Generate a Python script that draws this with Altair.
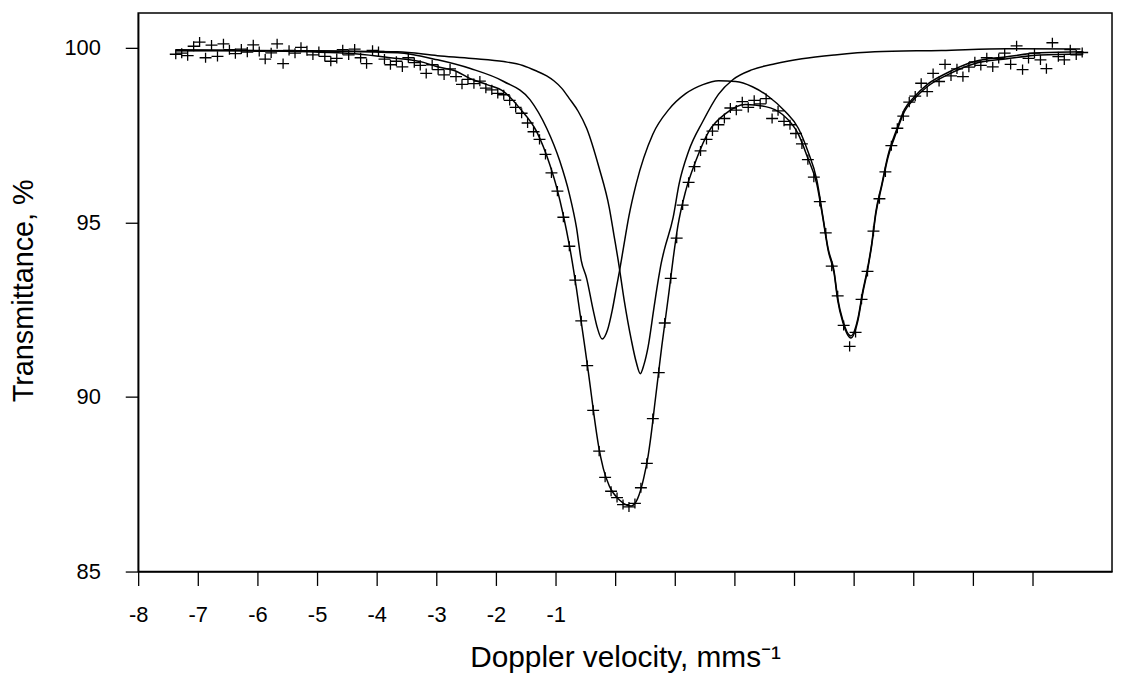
import altair as alt
import pandas as pd

# ---- measured spectrum: Doppler velocity (mm/s) and transmittance (%) ----
vel = [-7.37, -7.27, -7.17, -7.07, -6.97, -6.87, -6.77, -6.67, -6.57, -6.47,
       -6.37, -6.27, -6.17, -6.07, -5.97, -5.87, -5.77, -5.67, -5.57, -5.47,
       -5.37, -5.27, -5.17, -5.07, -4.97, -4.87, -4.77, -4.67, -4.57, -4.47,
       -4.37, -4.27, -4.17, -4.07, -3.97, -3.87, -3.77, -3.67, -3.57, -3.47,
       -3.37, -3.27, -3.17, -3.07, -2.97, -2.87, -2.77, -2.67, -2.57, -2.47,
       -2.37, -2.27, -2.17, -2.07, -1.97, -1.87, -1.77, -1.67, -1.57, -1.47,
       -1.37, -1.27, -1.17, -1.07, -0.97, -0.87, -0.77, -0.67, -0.57, -0.47,
       -0.37, -0.27, -0.17, -0.07, 0.03, 0.13, 0.23, 0.33, 0.43, 0.53,
       0.63, 0.73, 0.83, 0.93, 1.03, 1.13, 1.23, 1.33, 1.43, 1.53,
       1.63, 1.73, 1.83, 1.93, 2.03, 2.13, 2.23, 2.33, 2.43, 2.53,
       2.63, 2.73, 2.83, 2.93, 3.03, 3.13, 3.23, 3.33, 3.43, 3.53,
       3.63, 3.73, 3.83, 3.93, 4.03, 4.13, 4.23, 4.33, 4.43, 4.53,
       4.63, 4.73, 4.83, 4.93, 5.03, 5.13, 5.23, 5.33, 5.43, 5.53,
       5.63, 5.73, 5.83, 5.93, 6.03, 6.13, 6.23, 6.33, 6.43, 6.53,
       6.63, 6.73, 6.83, 6.93, 7.03, 7.13, 7.23, 7.33, 7.43, 7.53,
       7.63, 7.73, 7.83]
trans = [99.82, 99.85, 99.78, 100.05, 100.17, 99.72, 100.08, 99.76, 100.12, 99.95,
         99.84, 99.97, 99.88, 100.09, 99.90, 99.68, 99.86, 100.12, 99.55, 99.93,
         99.85, 100.02, 99.92, 99.80, 99.90, 99.76, 99.62, 99.70, 99.95, 99.80,
         99.97, 99.72, 99.55, 99.93, 99.90, 99.68, 99.52, 99.62, 99.46, 99.72,
         99.58, 99.50, 99.27, 99.52, 99.38, 99.23, 99.40, 99.18, 98.96, 99.10,
         98.98, 99.05, 98.85, 98.80, 98.70, 98.66, 98.50, 98.30, 98.13, 97.85,
         97.60, 97.38, 96.95, 96.42, 95.90, 95.15, 94.32, 93.35, 92.18, 90.90,
         89.62, 88.45, 87.70, 87.30, 87.12, 86.92, 86.85, 86.95, 87.40, 88.10,
         89.38, 90.70, 92.12, 93.40, 94.55, 95.50, 96.15, 96.60, 97.05, 97.38,
         97.62, 97.80, 97.98, 98.28, 98.22, 98.46, 98.30, 98.50, 98.40, 98.55,
         97.98, 98.20, 97.90, 97.80, 97.55, 97.25, 96.80, 96.30, 95.60, 94.70,
         93.75, 92.90, 92.05, 91.45, 91.85, 92.80, 93.60, 94.75, 95.68, 96.45,
         97.20, 97.70, 98.05, 98.45, 98.62, 98.99, 98.75, 99.27, 99.04, 99.53,
         99.20, 99.40, 99.18, 99.45, 99.60, 99.50, 99.72, 99.46, 99.70, 99.85,
         99.53, 100.06, 99.38, 99.70, 99.85, 99.66, 99.41, 100.15, 99.75, 99.66,
         99.95, 99.80, 99.87]

# ---- fitted envelope ----
fit_v = [-7.37, -6.65, -5.98, -5.32, -4.65, -4.32, -3.77, -3.20, -2.98, -2.65,
         -2.43, -2.15, -1.87, -1.60, -1.32, -1.10, -0.98, -0.87, -0.77, -0.70,
         -0.65, -0.60, -0.52, -0.45, -0.40, -0.35, -0.28, -0.20, -0.10, 0.07,
         0.20, 0.27, 0.35, 0.40, 0.48, 0.55, 0.60, 0.67, 0.73, 0.78,
         0.85, 0.90, 0.97, 1.05, 1.18, 1.35, 1.57, 1.85, 2.18, 2.52,
         2.80, 3.07, 3.23, 3.38, 3.48, 3.57, 3.67, 3.73, 3.82, 3.95,
         4.07, 4.15, 4.23, 4.30, 4.37, 4.47, 4.57, 4.72, 4.85, 5.02,
         5.23, 5.57, 6.02, 6.57, 7.13, 7.85]
fit_t = [99.92, 99.93, 99.92, 99.90, 99.86, 99.83, 99.72, 99.58, 99.46, 99.32,
         99.12, 98.95, 98.75, 98.27, 97.61, 96.67, 95.99, 95.20, 94.35, 93.65,
         93.10, 92.50, 91.55, 90.70, 90.05, 89.40, 88.60, 87.95, 87.45, 87.05,
         86.90, 86.88, 87.00, 87.20, 87.70, 88.30, 88.90, 89.90, 90.75, 91.45,
         92.35, 93.00, 93.95, 94.90, 95.90, 96.76, 97.61, 98.12, 98.38, 98.32,
         98.10, 97.53, 96.84, 96.10, 95.14, 94.20, 93.54, 92.77, 92.12, 91.69,
         92.20, 92.97, 93.63, 94.34, 95.25, 96.05, 96.84, 97.61, 98.18, 98.55,
         98.89, 99.23, 99.55, 99.69, 99.80, 99.83]

# ---- sub-spectrum A (doublet) ----
a_v = [-7.37, -5.32, -3.65, -2.98, -2.43, -1.87, -1.43, -1.15, -0.93, -0.77,
       -0.65, -0.57, -0.48, -0.37, -0.30, -0.22, -0.13, -0.05, 0.02, 0.07,
       0.13, 0.23, 0.35, 0.63, 0.90, 1.18, 1.47, 1.73, 2.02, 2.30,
       2.57, 2.85, 3.07, 3.23, 3.38, 3.48, 3.57, 3.67, 3.73, 3.82,
       3.95, 4.07, 4.15, 4.23, 4.30, 4.37, 4.47, 4.57, 4.72, 4.85,
       5.02, 5.23, 5.57, 6.02, 6.57, 7.13, 7.85]
a_t = [99.93, 99.92, 99.86, 99.66, 99.41, 99.04, 98.52, 97.70, 96.76, 95.82,
       94.85, 93.91, 93.40, 92.49, 91.98, 91.66, 91.92, 92.49, 93.14, 93.60,
       94.20, 95.19, 96.10, 97.53, 98.24, 98.69, 98.95, 99.06, 99.04, 98.89,
       98.61, 98.18, 97.70, 97.04, 96.22, 95.19, 94.25, 93.60, 92.83, 92.17,
       91.75, 92.26, 93.03, 93.68, 94.39, 95.31, 96.10, 96.90, 97.67, 98.24,
       98.61, 98.95, 99.29, 99.61, 99.75, 99.86, 99.89]

# ---- sub-spectrum B ----
b_v = [-7.37, -5.32, -3.65, -2.98, -2.40, -1.87, -1.55, -1.32, -1.15, -1.03,
       -0.90, -0.77, -0.62, -0.48, -0.27, -0.10, -0.02, 0.05, 0.15, 0.27,
       0.35, 0.42, 0.48, 0.55, 0.65, 0.72, 0.77, 0.82, 0.97, 1.07,
       1.23, 1.47, 1.73, 1.97, 2.30, 2.68, 3.13, 3.68, 4.35, 5.47,
       6.57, 7.80]
b_t = [99.95, 99.92, 99.89, 99.78, 99.70, 99.61, 99.50, 99.34, 99.20, 99.06,
       98.85, 98.55, 98.18, 97.70, 96.56, 95.42, 94.62, 93.91, 92.77, 91.63,
       91.01, 90.67, 90.92, 91.43, 92.57, 93.34, 93.83, 94.20, 95.14, 96.10,
       97.04, 97.90, 98.67, 99.09, 99.38, 99.55, 99.69, 99.80, 99.89, 99.93,
       99.98, 99.97]

x_ticks = list(range(-8, 8))
y_ticks = [85, 90, 95, 100]

FONT = "Liberation Sans"

pts = pd.DataFrame({"v": vel, "t": trans})
curves = pd.concat([
    pd.DataFrame({"v": fit_v, "t": fit_t, "c": "fit"}),
    pd.DataFrame({"v": a_v, "t": a_t, "c": "A"}),
    pd.DataFrame({"v": b_v, "t": b_t, "c": "B"}),
], ignore_index=True)

xscale = alt.Scale(domain=[-8, 8.33], nice=False, zero=False)
yscale = alt.Scale(domain=[85, 101], nice=False, zero=False)

xaxis = alt.Axis(
    values=x_ticks,
    labelExpr="datum.value < 0 ? '-' + abs(datum.value) : ''",
    labelFlush=False, labelOverlap=False,
    title="Doppler velocity, mms\u207b\u00b9",
    tickSize=14, labelPadding=19, labelFontSize=22,
    titleFontSize=30, titleBaseline="alphabetic", titleY=96,
    grid=False,
)
yaxis = alt.Axis(
    values=y_ticks,
    labelFlush=False, labelOverlap=False,
    title="Transmittance, %",
    tickSize=13, labelPadding=25, labelFontSize=22,
    titleFontSize=29, titleBaseline="alphabetic", titleX=-106, titleY=279,
    titleAlign="center", titleAngle=270,
    grid=False,
)

crosses = alt.Chart(pts).mark_point(
    shape="M-1,0L1,0M0,-0.85L0,0.85", size=144, filled=False,
    stroke="black", strokeWidth=1.3, opacity=1,
).encode(
    x=alt.X("v:Q", scale=xscale, axis=xaxis),
    y=alt.Y("t:Q", scale=yscale, axis=yaxis),
)

lines = alt.Chart(curves).mark_line(
    color="black", strokeWidth=1.5, interpolate="monotone",
).encode(
    x=alt.X("v:Q", scale=xscale),
    y=alt.Y("t:Q", scale=yscale),
    detail="c:N",
    order=alt.Order("v:Q"),
)

chart = alt.layer(crosses, lines).properties(
    width=980, height=562,
    autosize=alt.AutoSizeParams(type="none"),
    padding={"left": 131, "top": 3, "right": 2, "bottom": 100},
    background="white",
).configure_view(
    stroke="black", strokeWidth=1.5,
).configure_axis(
    domainColor="black", domainWidth=1.5,
    tickColor="black", tickWidth=1.3,
    labelColor="black", labelFont=FONT,
    titleColor="black", titleFont=FONT, titleFontWeight="normal",
)

chart.save("out.html", embed_options={"renderer": "svg", "actions": False})
